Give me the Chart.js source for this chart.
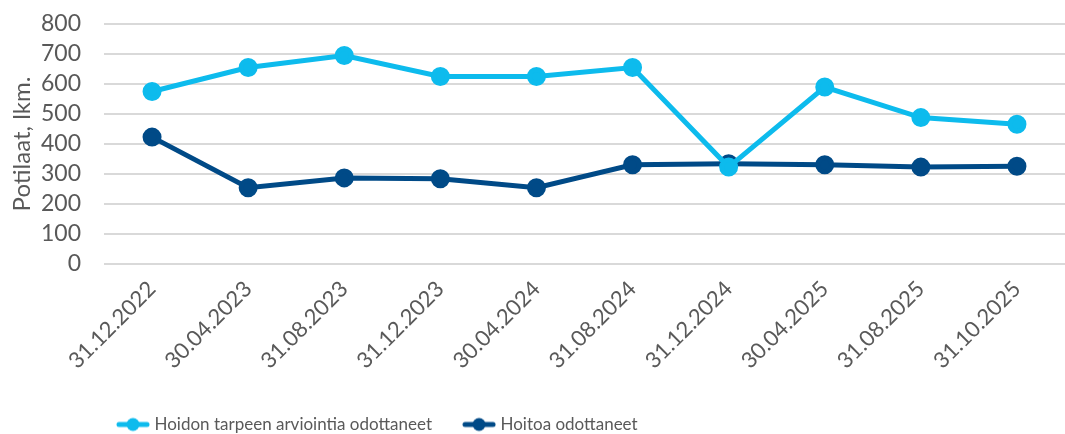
<!DOCTYPE html>
<html>
<head>
<meta charset="utf-8">
<script src="https://cdn.jsdelivr.net/npm/chart.js@4"></script>
<style>
  html, body { margin: 0; padding: 0; background: #fff; overflow: hidden; }
  #wrap { width: 1077px; height: 434px; position: relative; }
</style>
</head>
<body>
<div id="wrap"><canvas id="chart"></canvas></div>
<script>
const dates = ["31.12.2022", "30.04.2023", "31.08.2023", "31.12.2023", "30.04.2024",
               "31.08.2024", "31.12.2024", "30.04.2025", "31.08.2025", "31.10.2025"];
const arviointia = [575, 655, 695, 625, 625, 655, 323, 590, 488, 466];
const hoitoa = [423, 254, 287, 284, 254, 331, 334, 331, 323, 326];
const seriesNames = ["Hoidon tarpeen arviointia odottaneet", "Hoitoa odottaneet"];
const yTicks = [0, 100, 200, 300, 400, 500, 600, 700, 800];

const lightBlue = "#0dbbed";
const darkBlue = "#004a87";
const grey = "#595959";
const fontFam = "Lato, 'DejaVu Sans', sans-serif";

// legend marker: short line with a dot in the middle
function legendIcon(color) {
  const c = document.createElement("canvas");
  c.width = 34; c.height = 16;
  const g = c.getContext("2d");
  g.strokeStyle = color;
  g.lineWidth = 5;
  g.lineCap = "round";
  g.beginPath(); g.moveTo(3, 8); g.lineTo(31, 8); g.stroke();
  g.fillStyle = color;
  g.beginPath(); g.arc(17, 8, 6.5, 0, Math.PI * 2); g.fill();
  return c;
}

// move the legend to where it sits in the original
const legendShift = {
  id: "legendShift",
  afterLayout(ch) {
    const lg = ch.legend;
    const w = lg.right - lg.left;
    lg.left = 86;
    lg.right = lg.left + w;
    const h = lg.bottom - lg.top;
    lg.top = 382;
    lg.bottom = lg.top + h;
  }
};

const ctx = document.getElementById("chart").getContext("2d");
chart = new Chart(ctx, {
  type: "line",
  plugins: [legendShift],
  data: {
    labels: dates,
    datasets: [
      {
        label: seriesNames[0],
        data: arviointia,
        borderColor: lightBlue,
        backgroundColor: lightBlue,
        borderWidth: 5,
        pointRadius: 7,
        pointHoverRadius: 7,
        legendIcon: legendIcon(lightBlue)
      },
      {
        label: seriesNames[1],
        data: hoitoa,
        borderColor: darkBlue,
        backgroundColor: darkBlue,
        borderWidth: 5,
        pointRadius: 7,
        pointHoverRadius: 7,
        legendIcon: legendIcon(darkBlue)
      }
    ]
  },
  options: {
    responsive: true,
    maintainAspectRatio: false,
    animation: false,
    layout: { padding: { top: 24, right: 0, bottom: 0, left: 0 } },
    scales: {
      x: {
        offset: true,
        afterFit(scale) { scale.height = 109; },
        grid: { display: false },
        border: { display: false },
        ticks: {
          color: grey,
          font: { family: fontFam, size: 22 },
          minRotation: 45,
          maxRotation: 45,
          autoSkip: false,
          padding: 4
        }
      },
      y: {
        min: 0,
        max: 800,
        afterFit(scale) {
          scale.width = 104;
          scale.paddingTop = 0;
          scale.paddingBottom = 0;
        },
        afterBuildTicks(scale) { scale.ticks = yTicks.map(v => ({ value: v })); },
        grid: { color: "#d9d9d9", lineWidth: 2, drawTicks: false },
        border: { display: false },
        ticks: {
          color: grey,
          font: { family: fontFam, size: 23 },
          autoSkip: false,
          padding: 23
        },
        title: {
          display: true,
          text: "Potilaat, lkm.",
          color: grey,
          font: { family: fontFam, size: 24 },
          padding: { top: 8, bottom: 0 }
        }
      }
    },
    plugins: {
      tooltip: { enabled: false },
      legend: {
        position: "bottom",
        align: "start",
        labels: {
          color: grey,
          font: { family: fontFam, size: 17 },
          usePointStyle: true,
          pointStyleWidth: 26,
          boxHeight: 16,
          padding: 34,
          generateLabels(ch) {
            return ch.data.datasets.map((ds, i) => ({
              text: ds.label,
              fillStyle: ds.borderColor,
              strokeStyle: ds.borderColor,
              lineWidth: 0,
              pointStyle: ds.legendIcon,
              fontColor: grey,
              datasetIndex: i,
              hidden: false
            }));
          }
        }
      }
    }
  }
});
</script>
</body>
</html>
